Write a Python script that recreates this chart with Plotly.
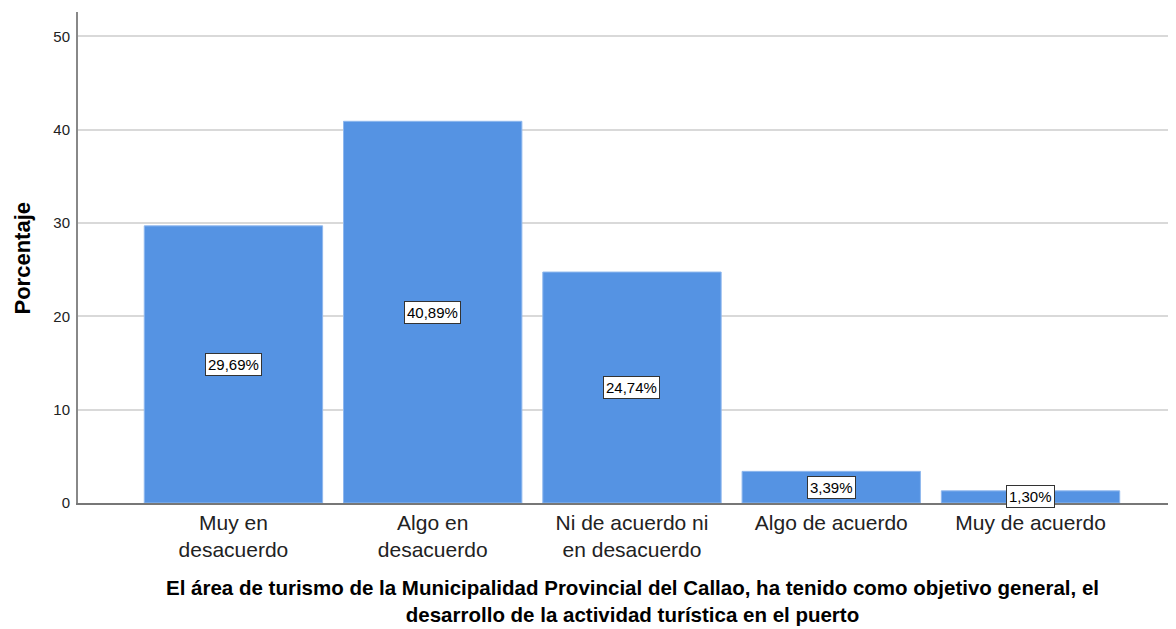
import plotly.graph_objects as go

categories = ["Muy en<br>desacuerdo", "Algo en<br>desacuerdo", "Ni de acuerdo ni<br>en desacuerdo",
              "Algo de acuerdo", "Muy de acuerdo"]
values = [29.69, 40.89, 24.74, 3.39, 1.30]
labels = ["29,69%", "40,89%", "24,74%", "3,39%", "1,30%"]
y_ticks = [0, 10, 20, 30, 40, 50]
x_title = ("El área de turismo de la Municipalidad Provincial del Callao, ha tenido como objetivo general, el<br>"
           "desarrollo de la actividad turística en el puerto")
y_title = "Porcentaje"

FONT = "Liberation Sans, Arial, sans-serif"
# page has an 8px body margin; figure sized/positioned to compensate
OFF = 8
W, H = 1176 - OFF, 629 - OFF
L, R, T, B = 78 - OFF, 0, 12 - OFF, H - (503 - OFF)
PW, PH = W - L - R, H - T - B

def px_x(x):  # page pixel -> paper x
    return (x - OFF - L) / PW

def px_y(y):  # page pixel -> paper y
    return (H - B - (y - OFF)) / PH

fig = go.Figure()
fig.add_trace(go.Bar(
    x=list(range(len(categories))), y=values,
    marker=dict(color="#5593e3", line=dict(color="#8fb8ee", width=1)),
    width=0.895, hoverinfo="skip",
))

for i, (v, lab) in enumerate(zip(values, labels)):
    fig.add_annotation(x=i, y=v / 2, text=lab, showarrow=False,
                       font=dict(family=FONT, size=15, color="black"),
                       bgcolor="white", bordercolor="#333333", borderwidth=1, borderpad=2)

# y-axis title
fig.add_annotation(xref="paper", yref="paper", x=px_x(22), y=0.5,
                   text="<b>%s</b>" % y_title, textangle=-90, showarrow=False,
                   xanchor="center", yanchor="middle",
                   font=dict(family=FONT, size=22, color="black"))
# x-axis title
fig.add_annotation(xref="paper", yref="paper", x=px_x(632), y=px_y(601),
                   text="<b>%s</b>" % x_title.replace("<br>", "</b><br><b>"), showarrow=False,
                   xanchor="center", yanchor="middle",
                   font=dict(family=FONT, size=20.5, color="black"))

fig.update_layout(
    width=W, height=H,
    margin=dict(l=L, r=R, t=T, b=B, autoexpand=False),
    plot_bgcolor="white", paper_bgcolor="white",
    showlegend=False,
    font=dict(family=FONT, color="#222222"),
    xaxis=dict(
        tickmode="array", tickvals=list(range(len(categories))), ticktext=categories,
        range=[-0.78, 4.73], showgrid=False, zeroline=False, automargin=False,
        showline=True, linecolor="#777777", linewidth=1.5,
        tickfont=dict(family=FONT, size=21, color="#222222"), ticks="",
        ticklabelstandoff=0,
    ),
    yaxis=dict(
        range=[0, 52.6], tickvals=y_ticks, showgrid=True, gridcolor="#d9d9d9", gridwidth=1.5,
        zeroline=False, showline=True, linecolor="#888888", linewidth=2, automargin=False,
        tickfont=dict(family=FONT, size=15, color="#222222"), ticks="",
        ticklabelstandoff=3,
    ),
)

fig.write_html("out.html")
